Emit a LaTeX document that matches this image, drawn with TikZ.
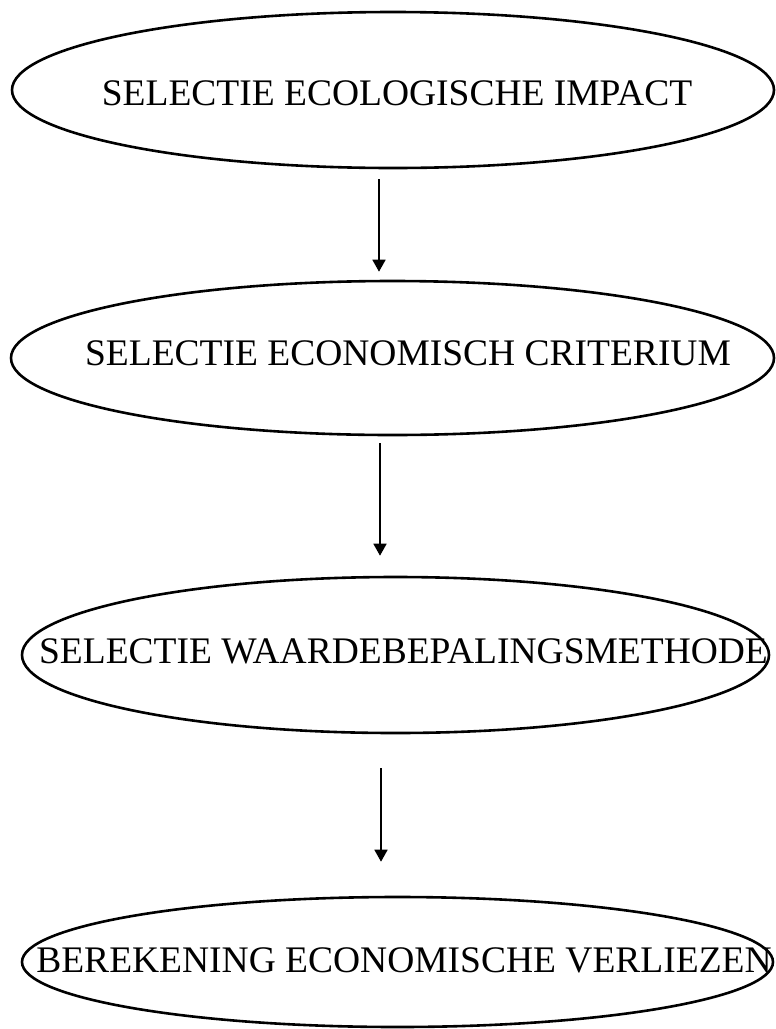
\documentclass[tikz,border=0pt]{standalone}
\usepackage{fontspec}
\setmainfont{Liberation Serif}
\usetikzlibrary{shapes.geometric,arrows.meta}
\begin{document}
\begin{tikzpicture}[x=1pt,y=-1pt,
  stage/.style={draw, ellipse, line width=2.6pt, inner sep=0pt},
  caption/.style={anchor=base, inner sep=0pt, font=\fontsize{37.5}{40}\selectfont},
  flow/.style={line width=1.7pt, -{Triangle[width=13pt,length=12pt]}}]
  \useasboundingbox (0,0) rectangle (776,1029);

  % process stages
  \node[stage, minimum width=762pt, minimum height=156pt] (e1) at (393,90) {};
  \node[stage, minimum width=763pt, minimum height=154pt] (e2) at (392.5,358) {};
  \node[stage, minimum width=747pt, minimum height=156pt] (e3) at (395.5,655) {};
  \node[stage, minimum width=751pt, minimum height=130pt] (e4) at (397.5,962) {};

  % stage labels
  \node[caption] (t1) at (397,105) {SELECTIE ECOLOGISCHE IMPACT};
  \node[caption] (t2) at (408,365) {SELECTIE ECONOMISCH CRITERIUM};
  \node[caption] (t3) at (403.5,663) {SELECTIE WAARDEBEPALINGSMETHODE};
  \node[caption] (t4) at (404,972) {BEREKENING ECONOMISCHE VERLIEZEN};

  % arrows between stages
  \draw[flow, shorten <=10pt, shorten >=8pt] (e1.south -| 379,0) -- (e2.north -| 379,0);
  \draw[flow, shorten <=7pt, shorten >=20pt] (e2.south -| 380,0) -- (e3.north -| 380,0);
  \draw[flow, shorten <=34pt, shorten >=34pt] (e3.south -| 381,0) -- (e4.north -| 381,0);
\end{tikzpicture}
\end{document}
